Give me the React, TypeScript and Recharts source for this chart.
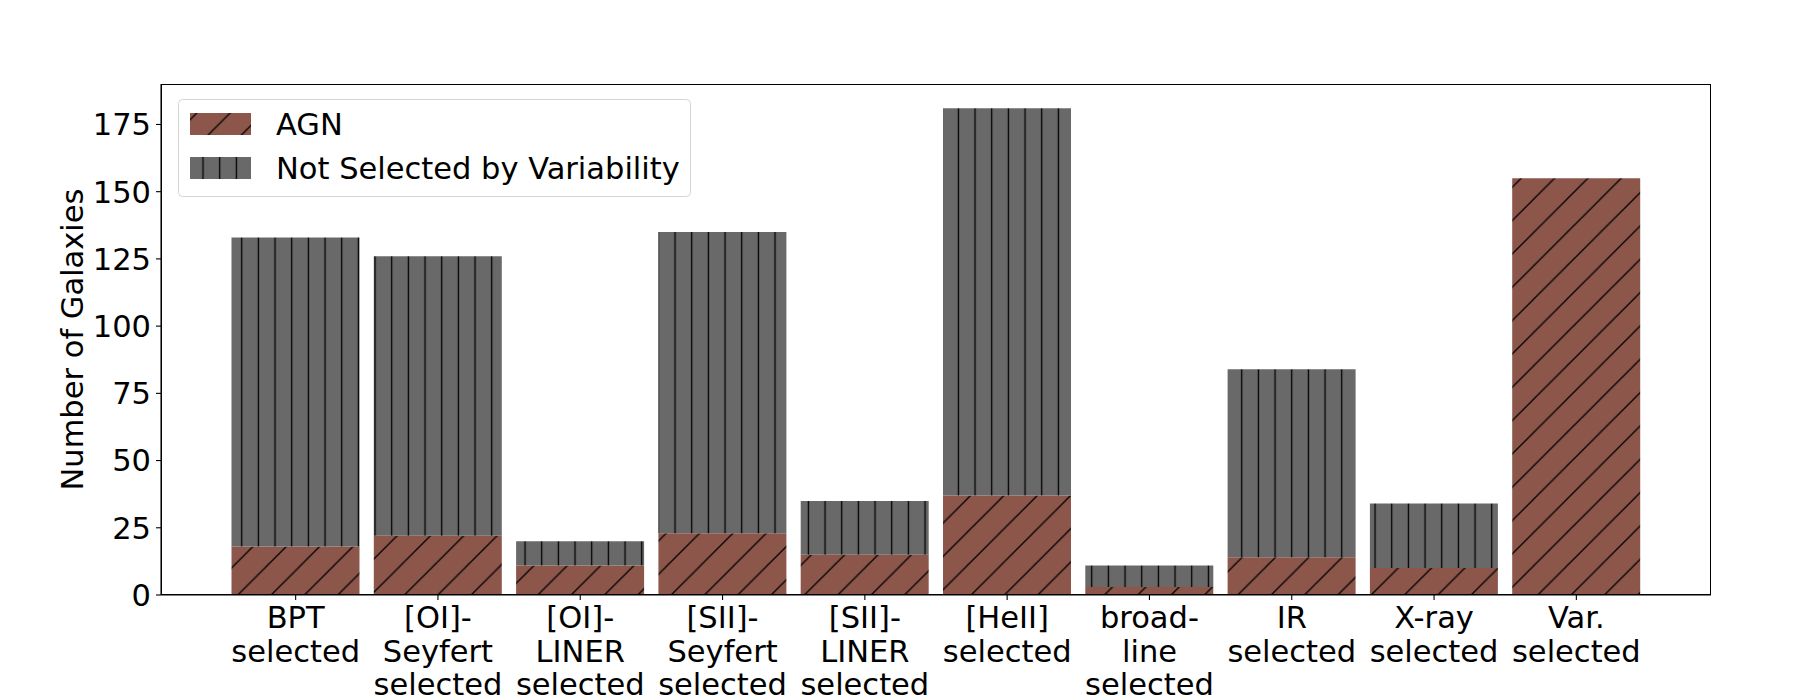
import { Bar, BarChart, Legend, XAxis, YAxis } from "recharts";

const categories = [
  "BPT\nselected",
  "[OI]-\nSeyfert\nselected",
  "[OI]-\nLINER\nselected",
  "[SII]-\nSeyfert\nselected",
  "[SII]-\nLINER\nselected",
  "[HeII]\nselected",
  "broad-\nline\nselected",
  "IR\nselected",
  "X-ray\nselected",
  "Var.\nselected",
];
const totalCounts = [133, 126, 20, 135, 35, 181, 11, 84, 34, 155];
const agnCounts = [18, 22, 11, 23, 15, 37, 3, 14, 10, 155];
const yTicks = [0, 25, 50, 75, 100, 125, 150, 175];

const data = categories.map((name, i) => ({
  name,
  agn: agnCounts[i],
  rest: totalCounts[i] - agnCounts[i],
}));

const FONT = "DejaVu Sans";
const FS = 30.5;
const BROWN = "#8c564b";
const GRAY = "#696969";

function CategoryTick({ x, y, payload }: any) {
  const lines = String(payload.value).split("\n");
  return (
    <g transform={`translate(${x},${y})`}>
      <text textAnchor="middle" fontSize={FS} fontFamily={FONT} fill="#000">
        {lines.map((l, i) => (
          <tspan key={i} x={0} y={28 + i * 33.5}>
            {l}
          </tspan>
        ))}
      </text>
    </g>
  );
}

function LegendBox() {
  return (
    <svg width={514} height={99} style={{ display: "block" }}>
      <rect x={0.5} y={0.5} width={512} height={97} rx={4} fill="#fff" fillOpacity={0.8} stroke="#d5d5d5" />
      <rect x={12} y={14} width={61} height={22} fill="url(#hatchAgn)" />
      <text x={98} y={36} fontSize={FS} fontFamily={FONT} fill="#000">
        AGN
      </text>
      <rect x={12} y={58} width={61} height={22} fill="url(#hatchGray)" />
      <text x={98} y={79.5} fontSize={FS} fontFamily={FONT} fill="#000">
        Not Selected by Variability
      </text>
    </svg>
  );
}

export default function App() {
  return (
    <div style={{ position: "absolute", left: 0, top: 0, width: 1800, height: 700, background: "#fff", overflow: "hidden" }}>
      <svg width={0} height={0} style={{ position: "absolute" }}>
        <defs>
          <pattern id="hatchGray" patternUnits="userSpaceOnUse" width={16.667} height={16.667}>
            <rect width={16.667} height={16.667} fill={GRAY} />
            <line x1={8.36} y1={-1} x2={8.36} y2={18} stroke="#000" strokeWidth={1.3} />
          </pattern>
          <pattern id="hatchAgn" patternUnits="userSpaceOnUse" x={-0.5} width={33.333} height={33.333}>
            <rect width={33.333} height={33.333} fill={BROWN} />
            <path
              d="M0,33.333 L33.333,0 M-8,8 L8,-8 M25.333,41.333 L41.333,25.333"
              stroke="#000"
              strokeWidth={1.3}
            />
          </pattern>
        </defs>
      </svg>
      <BarChart width={1800} height={700} data={data} margin={{ top: 84, right: 89, bottom: 0, left: 0 }}>
        <XAxis
          dataKey="name"
          interval={0}
          height={105}
          padding={{ left: 63.5, right: 63.5 }}
          axisLine={{ stroke: "#000", strokeWidth: 1.1 }}
          tickLine={{ stroke: "#000", strokeWidth: 1.1 }}
          tickSize={5}
          tickMargin={0}
          tick={<CategoryTick />}
        />
        <YAxis
          width={161}
          domain={[0, 190.05]}
          ticks={yTicks}
          allowDataOverflow
          axisLine={{ stroke: "#000", strokeWidth: 1.1 }}
          tickLine={{ stroke: "#000", strokeWidth: 1.1 }}
          tickSize={5}
          tickMargin={5}
          tick={{ fontSize: FS, fontFamily: FONT, fill: "#000" }}
          label={{
            content: ({ viewBox }: any) => {
              const cy = viewBox.y + viewBox.height / 2;
              return (
                <text
                  x={83}
                  y={cy}
                  transform={`rotate(-90, 83, ${cy})`}
                  textAnchor="middle"
                  fontSize={FS}
                  fontFamily={FONT}
                  fill="#000"
                >
                  Number of Galaxies
                </text>
              );
            },
          }}
        />
        <Legend
          layout="vertical"
          align="center"
          verticalAlign="middle"
          content={() => <LegendBox />}
          wrapperStyle={{ position: "absolute", left: 178, top: 99, width: 514, height: 99 }}
        />
        <Bar dataKey="agn" stackId="s" fill="url(#hatchAgn)" barSize={128} isAnimationActive={false} />
        <Bar dataKey="rest" stackId="s" fill="url(#hatchGray)" barSize={128} isAnimationActive={false} />
      </BarChart>
      {/* frame around the plot area, like the matplotlib spines */}
      <div
        style={{
          position: "absolute",
          left: 160.5,
          top: 83.5,
          width: 1550,
          height: 511,
          border: "1.1px solid #000",
          boxSizing: "border-box",
          pointerEvents: "none",
        }}
      />
    </div>
  );
}
